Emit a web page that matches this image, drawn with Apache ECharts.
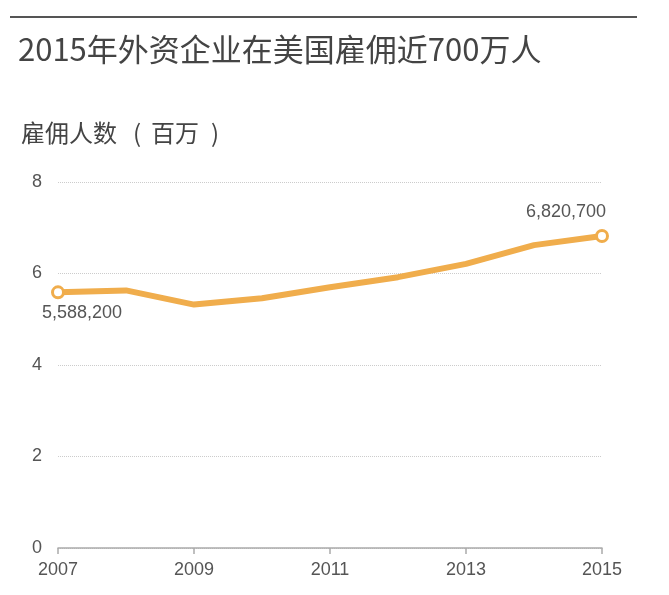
<!DOCTYPE html>
<html>
<head>
<meta charset="utf-8">
<script src="https://cdn.jsdelivr.net/npm/echarts@6/dist/echarts.min.js"></script>
<style>html,body{margin:0;padding:0;background:#fff;}#c{width:669px;height:595px;}</style>
</head>
<body>
<div id="c"></div>
<script>
const years = ['2007','2008','2009','2010','2011','2012','2013','2014','2015'];
const employment = [5.5882, 5.63, 5.32, 5.46, 5.70, 5.92, 6.21, 6.62, 6.8207];
const yTicks = [0, 2, 4, 6, 8];
const titleText = '2015年外资企业在美国雇佣近700万人';
const unitParts = ['雇佣人数', '(', '百万', ')'];
const firstLabel = '5,588,200';
const lastLabel = '6,820,700';

const chart = echarts.init(document.getElementById('c'));
const orange = '#F0AD4C';
const numFont = 'Arial, "Liberation Sans", sans-serif';
const dataPts = employment.map((v, i) => {
  const p = { value: v };
  if (i === 0 || i === employment.length - 1) {
    p.symbol = 'circle';
    p.symbolSize = 11;
    p.itemStyle = { color: '#fff', borderColor: orange, borderWidth: 3 };
    p.label = {
      show: true,
      formatter: i === 0 ? firstLabel : lastLabel,
      position: i === 0 ? 'bottom' : 'top',
      offset: i === 0 ? [24, 0] : [-36, -3],
      color: '#555',
      fontSize: 18,
      fontFamily: numFont
    };
  } else {
    p.symbol = 'none';
  }
  return p;
});

const cjk = '"Noto Sans CJK SC", sans-serif';
chart.setOption({
  animation: false,
  graphic: [
    { type: 'line', shape: { x1: 10, y1: 17, x2: 637, y2: 17 }, style: { stroke: '#555', lineWidth: 2 } },
    { type: 'text', left: 18, top: 34, style: { text: titleText, fill: '#444', font: 'normal 31px ' + cjk } },
    { type: 'text', left: 21, top: 121, style: { text: unitParts[0], fill: '#444', font: 'normal 24px ' + cjk } },
    { type: 'text', left: 133, top: 121, style: { text: unitParts[1], fill: '#444', font: 'normal 24px ' + cjk } },
    { type: 'text', left: 151, top: 121, style: { text: unitParts[2], fill: '#444', font: 'normal 24px ' + cjk } },
    { type: 'text', left: 211, top: 121, style: { text: unitParts[3], fill: '#444', font: 'normal 24px ' + cjk } }
  ],
  grid: { left: 58, right: 67, top: 182, bottom: 47 },
  xAxis: {
    type: 'category',
    data: years,
    boundaryGap: false,
    axisLine: { lineStyle: { color: '#aaa', width: 1.5 } },
    axisTick: { show: true, interval: 1, length: 6, lineStyle: { color: '#aaa', width: 1.5 } },
    axisLabel: { interval: 1, color: '#555', fontSize: 18, margin: 13, fontFamily: numFont },
    splitLine: { show: false }
  },
  yAxis: {
    type: 'value',
    min: yTicks[0],
    max: yTicks[yTicks.length - 1],
    interval: 2,
    axisLine: { show: false },
    axisTick: { show: false },
    axisLabel: { color: '#555', fontSize: 18, margin: 16, fontFamily: numFont },
    splitLine: { lineStyle: { color: '#ccc', type: 'dotted', width: 1 } }
  },
  series: [{
    type: 'line',
    data: dataPts,
    lineStyle: { color: orange, width: 6 },
    itemStyle: { color: orange },
    z: 3
  }]
});
</script>
</body>
</html>
